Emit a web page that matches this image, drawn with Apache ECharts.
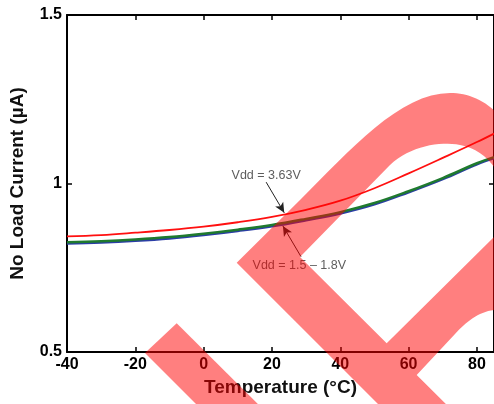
<!DOCTYPE html>
<html><head><meta charset="utf-8">
<script src="https://cdn.jsdelivr.net/npm/echarts@6/dist/echarts.min.js"></script>
<style>html,body{margin:0;padding:0;background:#fff}#c{width:494px;height:404px}</style>
</head><body><div id="c"></div>
<script>
// Data
const temps   = [-40, -30, -20, -10, 0, 10, 20, 30, 40, 50, 60, 70, 80, 85];
const vdd363  = [0.843, 0.847, 0.854, 0.862, 0.872, 0.885, 0.901, 0.922, 0.949, 0.986, 1.030, 1.076, 1.123, 1.148];
const vdd18   = [0.826, 0.829, 0.834, 0.841, 0.851, 0.863, 0.877, 0.895, 0.915, 0.942, 0.977, 1.016, 1.060, 1.078];
const vdd15   = [0.822, 0.825, 0.830, 0.837, 0.847, 0.859, 0.873, 0.891, 0.911, 0.938, 0.974, 1.013, 1.057, 1.075];
const xName = 'Temperature (°C)';
const yName = 'No Load Current (µA)';
const annoText = ['Vdd = 3.63V', 'Vdd = 1.5 – 1.8V'];

const pairs = ys => temps.map((t, i) => [t, ys[i]]);
const FONT = '"Liberation Sans", Arial, sans-serif';

// watermark outline helper: segments of lines (L) and cubic curves (C)
function flatten(start, segs) {
  const pts = [start.slice()];
  let cur = start.slice();
  segs.forEach(s => {
    if (s.length === 2) { pts.push(s.slice()); cur = s.slice(); }
    else {
      const [c1x, c1y, c2x, c2y, ex, ey] = s;
      for (let k = 1; k <= 16; k++) {
        const t = k / 16, u = 1 - t;
        pts.push([u*u*u*cur[0] + 3*u*u*t*c1x + 3*u*t*t*c2x + t*t*t*ex,
                  u*u*u*cur[1] + 3*u*u*t*c1y + 3*u*t*t*c2y + t*t*t*ey]);
      }
      cur = [ex, ey];
    }
  });
  return pts;
}
const outer = flatten([394, 420], [[236.7, 262.7], [300, 200], [350, 150, 400, 93, 450, 93],
  [468, 93, 485, 100, 500, 116], [540, 200], [530, 290], [494, 310], [478, 312, 466, 322, 455, 334],
  [416.7, 375], [462, 420]]);
const inner = flatten([300, 257], [[386.7, 343.3], [494, 237], [512, 205], [505, 180, 490, 150, 460, 145],
  [440, 141, 410, 146, 390, 165], [300, 257]]);
const keyhole = outer.concat([[394, 420]], inner, [[394, 420]]);

const chart = echarts.init(document.getElementById('c'), null, {renderer: 'canvas'});
const arrowStyle = {color: '#222', width: 1, type: 'solid'};
chart.setOption({
  animation: false,
  backgroundColor: '#fff',
  grid: {left: 67, top: 15, width: 428, height: 337, containLabel: false},
  xAxis: [{
    type: 'value', min: -40, max: 85, interval: 20, position: 'bottom',
    name: xName, nameLocation: 'middle', nameGap: 26,
    nameTextStyle: {fontFamily: FONT, fontWeight: 'bold', fontSize: 19, color: '#111'},
    axisLine: {show: true, onZero: false, lineStyle: {color: '#000', width: 2}},
    axisTick: {show: true, inside: true, length: 5, lineStyle: {color: '#000', width: 1.5}},
    axisLabel: {fontFamily: FONT, fontWeight: 'bold', fontSize: 16, color: '#000', margin: 5, showMaxLabel: false},
    splitLine: {show: false}
  }, {
    type: 'value', min: -40, max: 85, interval: 20, position: 'top',
    axisLine: {show: true, onZero: false, lineStyle: {color: '#000', width: 2}},
    axisTick: {show: true, inside: true, length: 5, lineStyle: {color: '#000', width: 1.5}},
    axisLabel: {show: false}, splitLine: {show: false}
  }],
  yAxis: [{
    type: 'value', min: 0.5, max: 1.5, interval: 0.5, position: 'left',
    name: yName, nameLocation: 'middle', nameGap: 40, nameRotate: 90,
    nameTextStyle: {fontFamily: FONT, fontWeight: 'bold', fontSize: 19, color: '#111'},
    axisLine: {show: true, onZero: false, lineStyle: {color: '#000', width: 2}},
    axisTick: {show: true, inside: true, length: 5, lineStyle: {color: '#000', width: 1.5}},
    axisLabel: {fontFamily: FONT, fontWeight: 'bold', fontSize: 16, color: '#000', margin: 5},
    splitLine: {show: false}
  }, {
    type: 'value', min: 0.5, max: 1.5, interval: 0.5, position: 'right',
    axisLine: {show: true, onZero: false, lineStyle: {color: '#000', width: 2}},
    axisTick: {show: true, inside: true, length: 5, lineStyle: {color: '#000', width: 1.5}},
    axisLabel: {show: false}, splitLine: {show: false}
  }],
  series: [
    {type: 'line', name: 'Vdd = 1.5V', data: pairs(vdd15), smooth: 0.4, showSymbol: false,
     lineStyle: {color: '#2b3da6', width: 2.5}, z: 2},
    {type: 'line', name: 'Vdd = 1.8V', data: pairs(vdd18), smooth: 0.4, showSymbol: false,
     lineStyle: {color: '#1f7a2e', width: 2.5}, z: 3},
    {type: 'line', name: 'Vdd = 3.63V', data: pairs(vdd363), smooth: 0.4, showSymbol: false,
     lineStyle: {color: '#ff1010', width: 1.8}, z: 4,
     markLine: {
       silent: true, symbol: ['none', 'arrow'], symbolSize: [7, 10],
       label: {show: false}, lineStyle: arrowStyle,
       data: [
         [{coord: [18.3, 1.004]}, {coord: [23.6, 0.913]}],
         [{coord: [28.5, 0.783]}, {coord: [23.2, 0.874]}]
       ]
     }},
    {type: 'scatter', data: [[18.3, 1.025, annoText[0]], [28.0, 0.758, annoText[1]]],
     symbol: 'circle', symbolSize: 2, itemStyle: {color: 'rgba(0,0,0,0)'}, silent: true, z: 5,
     label: {show: true, position: 'inside', formatter: p => p.data[2],
             fontFamily: FONT, fontSize: 12.5, color: '#333'}}
  ],
  graphic: [
    {type: 'polygon', z: 100, silent: true,
     shape: {points: [[176.7, 323.3], [145, 353], [212, 420], [274, 420]]},
     style: {fill: 'rgba(255,0,0,0.5)'}},
    {type: 'polygon', z: 100, silent: true,
     shape: {points: keyhole},
     style: {fill: 'rgba(255,0,0,0.5)'}}
  ]
});
</script></body></html>
